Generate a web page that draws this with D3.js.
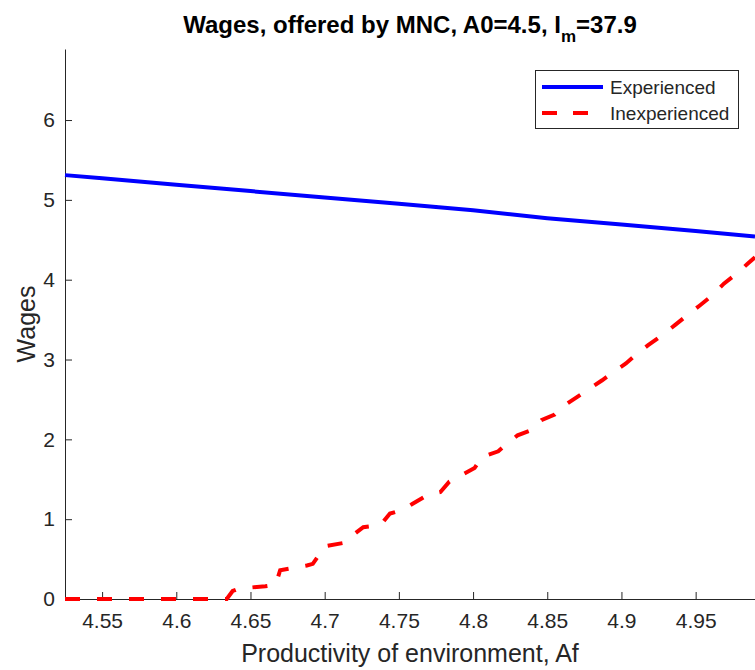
<!DOCTYPE html>
<meta charset="utf-8">
<style>
body { margin: 0; background: #fff; }
svg { display: block; font-family: "Liberation Sans", Arial, sans-serif; }
.tick text { fill: #262626; font-size: 21px; }
.axis path, .axis line { stroke: #262626; }
</style>
<body>
<script src="https://d3js.org/d3.v7.min.js"></script>
<script>

// productivity values (x) and wages for each series
var afExp = [4.525, 4.55, 4.6, 4.65, 4.7, 4.75, 4.8, 4.85, 4.9, 4.95, 4.99];
var wageExp = [5.31, 5.27, 5.19, 5.11, 5.03, 4.95, 4.87, 4.77, 4.69, 4.61, 4.54];

var afInexp = [4.525, 4.634, 4.638, 4.642, 4.660, 4.667, 4.670, 4.688, 4.692, 4.695,
  4.700, 4.712, 4.716, 4.719, 4.726, 4.738, 4.740, 4.744, 4.753, 4.759,
  4.769, 4.778, 4.784, 4.792, 4.801, 4.806, 4.817, 4.823, 4.830, 4.840,
  4.846, 4.855, 4.862, 4.870, 4.879, 4.887, 4.895, 4.903, 4.911, 4.918,
  4.927, 4.936, 4.944, 4.953, 4.961, 4.969, 4.978, 4.985, 4.99];
var wageInexp = [0, 0, 0.10, 0.13, 0.16, 0.18, 0.36, 0.42, 0.44, 0.52,
  0.66, 0.70, 0.74, 0.80, 0.90, 0.93, 0.98, 1.07, 1.12, 1.19,
  1.30, 1.34, 1.47, 1.55, 1.64, 1.78, 1.85, 1.95, 2.05, 2.12,
  2.24, 2.31, 2.43, 2.53, 2.64, 2.74, 2.85, 2.95, 3.08, 3.18,
  3.30, 3.43, 3.55, 3.68, 3.80, 3.95, 4.08, 4.20, 4.28];

var xTicks = [4.55, 4.6, 4.65, 4.7, 4.75, 4.8, 4.85, 4.9, 4.95];
var yTicks = [0, 1, 2, 3, 4, 5, 6];
var seriesNames = ["Experienced", "Inexperienced"];

var W = 755, H = 670;
var m = {left: 65, right: 755, top: 49, bottom: 599};

var svg = d3.select("body").append("svg")
  .attr("width", W)
  .attr("height", H);

var x = d3.scaleLinear().domain([4.525, 4.99]).range([m.left, m.right]);
var y = d3.scaleLinear().domain([0, 6.89]).range([m.bottom, m.top]);

// axes (ticks point inwards, matlab style)
svg.append("g")
  .attr("class", "axis")
  .attr("transform", "translate(0," + m.bottom + ")")
  .call(d3.axisBottom(x).tickValues(xTicks).tickFormat(d3.format("")).tickSizeInner(-7).tickSizeOuter(0).tickPadding(14))
  .call(function(g) { g.selectAll("text").attr("dy", "0.71em"); });

svg.append("g")
  .attr("class", "axis")
  .attr("transform", "translate(" + m.left + ",0)")
  .call(d3.axisLeft(y).tickValues(yTicks).tickFormat(d3.format("d")).tickSizeInner(-7).tickSizeOuter(0).tickPadding(10));

var line = d3.line()
  .x(function(d) { return x(d[0]); })
  .y(function(d) { return y(d[1]); });

var expPts = afExp.map(function(a, i) { return [a, wageExp[i]]; });
var inexpPts = afInexp.map(function(a, i) { return [a, wageInexp[i]]; });

svg.append("path")
  .datum(inexpPts)
  .attr("fill", "none")
  .attr("stroke", "#ff0000")
  .attr("stroke-width", 4)
  .attr("stroke-dasharray", "15,17")
  .attr("d", line);

svg.append("path")
  .datum(expPts)
  .attr("fill", "none")
  .attr("stroke", "#0000ff")
  .attr("stroke-width", 4)
  .attr("d", line);

// title
var title = svg.append("text")
  .attr("x", (m.left + m.right) / 2)
  .attr("y", 33)
  .attr("text-anchor", "middle")
  .attr("font-weight", "bold")
  .attr("font-size", 24)
  .attr("fill", "#000");
title.append("tspan").text("Wages, offered by MNC, A0=4.5, I");
title.append("tspan").attr("dy", 9).attr("font-size", 17).text("m");
title.append("tspan").attr("dy", -9).text("=37.9");

// axis labels
svg.append("text")
  .attr("x", (m.left + m.right) / 2)
  .attr("y", 662)
  .attr("text-anchor", "middle")
  .attr("font-size", 25)
  .attr("fill", "#262626")
  .text("Productivity of environment, Af");

svg.append("text")
  .attr("transform", "translate(35," + (m.top + m.bottom) / 2 + ") rotate(-90)")
  .attr("text-anchor", "middle")
  .attr("font-size", 25)
  .attr("fill", "#262626")
  .text("Wages");

// legend
var lg = svg.append("g");
lg.append("rect")
  .attr("x", 535.5).attr("y", 70.5)
  .attr("width", 203).attr("height", 58)
  .attr("fill", "#fff")
  .attr("stroke", "#262626")
  .attr("stroke-width", 1);

var legColors = ["#0000ff", "#ff0000"];
var legDash = [null, "15,16"];
seriesNames.forEach(function(name, i) {
  var ly = 87 + i * 26;
  lg.append("line")
    .attr("x1", 542).attr("x2", 603)
    .attr("y1", ly).attr("y2", ly)
    .attr("stroke", legColors[i])
    .attr("stroke-width", 4)
    .attr("stroke-dasharray", legDash[i]);
  lg.append("text")
    .attr("x", 610).attr("y", ly)
    .attr("dy", "0.35em")
    .attr("font-size", 19)
    .attr("fill", "#262626")
    .text(name);
});

</script>
</body>
